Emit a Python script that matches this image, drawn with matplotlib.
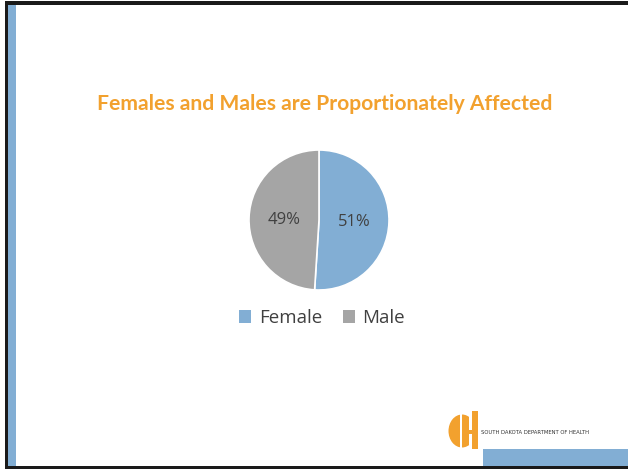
import matplotlib
matplotlib.use("Agg")
import matplotlib.pyplot as plt
import numpy as np
from matplotlib.patches import Rectangle, Ellipse

# Data
categories = ["Female", "Male"]
shares = [51, 49]
colors = ["#82AED4", "#A5A5A5"]
title = "Females and Males are Proportionately Affected"
org_name = "SOUTH DAKOTA DEPARTMENT OF HEALTH"

W, H = 628, 470
fig = plt.figure(figsize=(W / 100, H / 100), dpi=100)
fig.patch.set_facecolor("white")

# Slide decorations in pixel coordinates
deco = fig.add_axes([0, 0, 1, 1])
deco.set_xlim(0, W)
deco.set_ylim(H, 0)
deco.axis("off")

deco.add_patch(Rectangle((5, 1), W - 5, 3.5, color="#1a1a1a", lw=0))
deco.add_patch(Rectangle((5, 1), 2.5, H - 3, color="#1a1a1a", lw=0))
deco.add_patch(Rectangle((5, 465.5), W - 5, 3, color="#1a1a1a", lw=0))
deco.add_patch(Rectangle((7.5, 4.5), 8, 461, color="#82AED4", lw=0))
deco.add_patch(Rectangle((483, 449), W - 483, 16.5, color="#82AED4", lw=0))

# Logo
orange = "#F2A12E"
deco.add_patch(Ellipse((462, 431), 27, 33, color=orange, lw=0))
deco.add_patch(Rectangle((472, 411), 6, 38, color=orange, lw=0))
deco.add_patch(Rectangle((459.5, 412), 2.8, 38, color="white", lw=0))
deco.add_patch(Rectangle((468.5, 411), 3.5, 19, color="white", lw=0))
deco.add_patch(Rectangle((468.5, 434), 3.5, 16, color="white", lw=0))
deco.text(481, 433, org_name, fontsize=3.8, color="#333333",
          family="DejaVu Sans Condensed", ha="left", va="center")

# Title
deco.text(325, 104, title, fontsize=15.2, color=orange, fontweight="bold",
          family="Lato", ha="center", va="center")

# Pie chart
cx, cy, r = 319, 220, 70
pax = fig.add_axes([(cx - r) / W, (H - cy - r) / H, 2 * r / W, 2 * r / H])
wedges, texts = pax.pie(shares, colors=colors, startangle=90, counterclock=False,
                        radius=1, wedgeprops=dict(edgecolor="white", linewidth=1.2))
pax.set_xlim(-1, 1)
pax.set_ylim(-1, 1)
pax.set_aspect("equal")
pax.axis("off")

for w, v in zip(wedges, shares):
    ang = np.deg2rad((w.theta1 + w.theta2) / 2)
    pax.text(0.5 * np.cos(ang), 0.5 * np.sin(ang) - 0.02, f"{v}%", ha="center",
             va="center", fontsize=12, color="#404040", family="Open Sans")

# Legend
leg = fig.legend(wedges, categories, loc="center", bbox_to_anchor=(322 / W, 1 - 318 / H),
                 ncol=2, frameon=False, handlelength=0.65, handleheight=0.65,
                 handletextpad=0.4, columnspacing=1.1,
                 prop=dict(family="Open Sans", size=13.5))
for t in leg.get_texts():
    t.set_color("#404040")
for h in leg.legend_handles:
    h.set_edgecolor("none")

fig.savefig("out.png", dpi=100, facecolor="white")
